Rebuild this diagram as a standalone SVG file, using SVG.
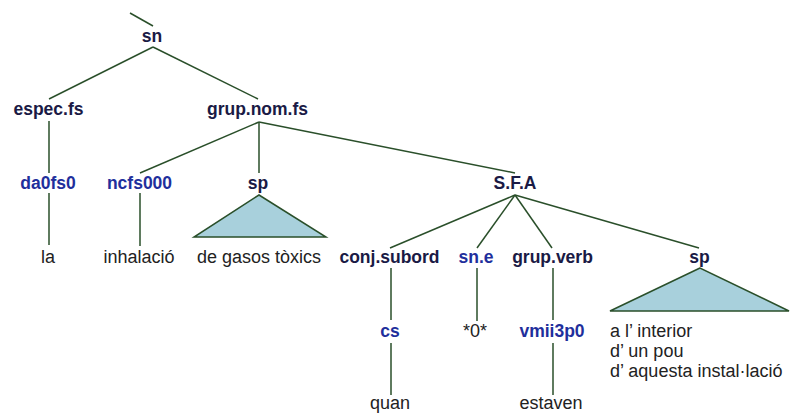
<svg xmlns="http://www.w3.org/2000/svg" width="790" height="416" viewBox="0 0 790 416">
<style>
.cat{font-family:"Liberation Sans",Arial,sans-serif;font-weight:bold;font-size:17.5px;fill:#1a1a45;text-anchor:middle}
.tag{font-family:"Liberation Sans",Arial,sans-serif;font-weight:bold;font-size:17.5px;fill:#1f2f9c;text-anchor:middle}
.word{font-family:"Liberation Sans",Arial,sans-serif;font-size:18px;fill:#222;text-anchor:middle}
.wordL{font-family:"Liberation Sans",Arial,sans-serif;font-size:18px;fill:#222}
.ln{stroke:#2a4f2a;stroke-width:1.5;fill:none}
.tri{fill:#a8d0dc;stroke:#2a4f2a;stroke-width:1.5}
</style>
<rect width="790" height="416" fill="#fff"/>
<g id="connectors">
<line class="ln" x1="130" y1="13" x2="153" y2="26"/>
<line class="ln" x1="153" y1="47" x2="49" y2="99"/>
<line class="ln" x1="153" y1="47" x2="258" y2="99"/>
<line class="ln" x1="49" y1="121" x2="49" y2="173"/>
<line class="ln" x1="49" y1="193" x2="49" y2="245"/>
<line class="ln" x1="259" y1="122" x2="140" y2="173"/>
<line class="ln" x1="259" y1="122" x2="259" y2="173"/>
<line class="ln" x1="259" y1="122" x2="515" y2="173"/>
<line class="ln" x1="140" y1="193" x2="140" y2="246"/>
<line class="ln" x1="515" y1="195" x2="390" y2="248"/>
<line class="ln" x1="515" y1="195" x2="477" y2="248"/>
<line class="ln" x1="515" y1="195" x2="552" y2="248"/>
<line class="ln" x1="515" y1="195" x2="699" y2="248"/>
<line class="ln" x1="391" y1="268" x2="391" y2="320"/>
<line class="ln" x1="391" y1="343" x2="391" y2="395"/>
<line class="ln" x1="477" y1="268" x2="477" y2="321"/>
<line class="ln" x1="553" y1="268" x2="553" y2="320"/>
<line class="ln" x1="553" y1="343" x2="553" y2="395"/>
</g>
<g id="n-sn"><text class="cat" x="152" y="42">sn</text></g>
<g id="n-espec"><text class="cat" x="48.5" y="115">espec.fs</text></g>
<g id="n-grupnom"><text class="cat" x="257.5" y="115">grup.nom.fs</text></g>
<g id="n-da0fs0"><text class="tag" x="48" y="189">da0fs0</text></g>
<g id="n-la"><text class="word" x="48" y="263">la</text></g>
<g id="n-ncfs000"><text class="tag" x="139.5" y="189">ncfs000</text></g>
<g id="n-inhalacio"><text class="word" x="139" y="263">inhalació</text></g>
<g id="n-sp1"><text class="cat" x="258" y="189">sp</text>
<polygon class="tri" points="259,195 194,237 326,237"/>
<text class="word" x="259" y="263">de gasos tòxics</text></g>
<g id="n-sfa"><text class="cat" x="515" y="189">S.F.A</text></g>
<g id="n-conj"><text class="cat" x="389.5" y="263">conj.subord</text></g>
<g id="n-cs"><text class="tag" x="390" y="337">cs</text></g>
<g id="n-quan"><text class="word" x="390" y="409">quan</text></g>
<g id="n-sne"><text class="tag" x="476" y="263">sn.e</text></g>
<g id="n-zero"><text class="word" x="475" y="337">*0*</text></g>
<g id="n-grupverb"><text class="cat" x="552.5" y="263">grup.verb</text></g>
<g id="n-vmii"><text class="tag" x="552" y="337">vmii3p0</text></g>
<g id="n-estaven"><text class="word" x="551" y="409">estaven</text></g>
<g id="n-sp2"><text class="cat" x="699.5" y="263">sp</text>
<polygon class="tri" points="700,268 610,311 789,311"/>
<text class="wordL" x="610" y="337">a l’ interior</text>
<text class="wordL" x="610" y="357">d’ un pou</text>
<text class="wordL" x="610" y="377">d’ aquesta instal·lació</text></g>
</svg>
